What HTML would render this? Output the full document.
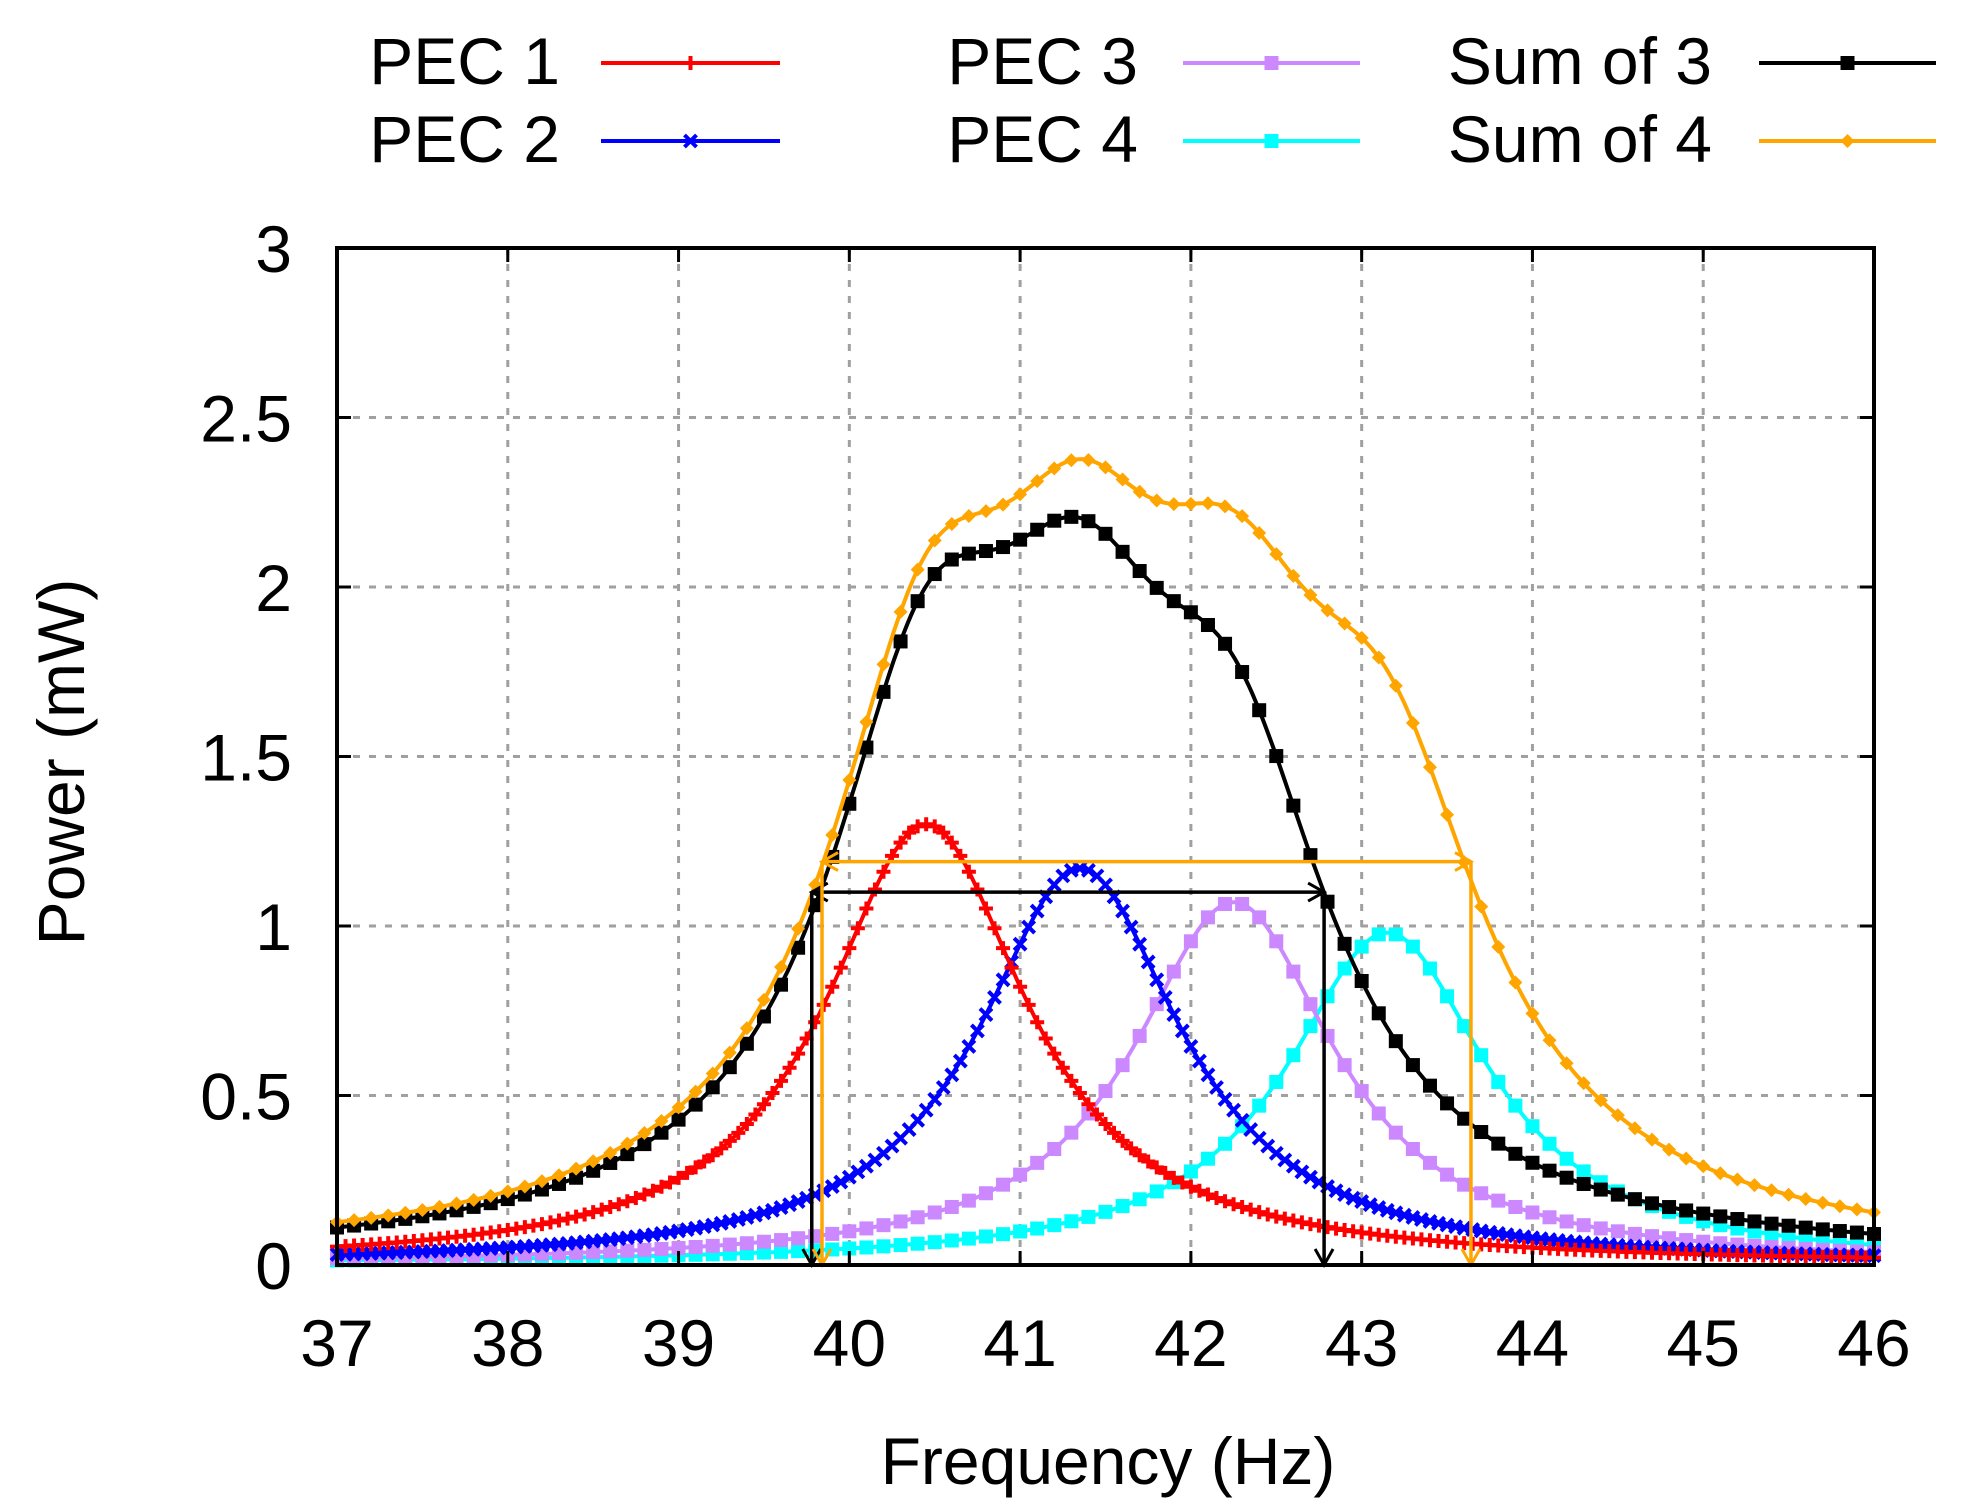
<!DOCTYPE html>
<html><head><meta charset="utf-8"><style>
html,body{margin:0;padding:0;background:#fff;}
svg{display:block;}
text{font-family:"Liberation Sans",sans-serif;fill:#000;}
</style></head><body>
<svg id="s" width="1964" height="1510" viewBox="0 0 1964 1510" xmlns="http://www.w3.org/2000/svg">
<g id="grid" stroke="#a0a0a0" stroke-width="3" stroke-dasharray="7,9"></g>
<g id="series"></g>
<g id="arrows"></g>
<rect x="337" y="248" width="1537" height="1017" fill="none" stroke="#000" stroke-width="4"/>
<g id="ticks" stroke="#000" stroke-width="3"></g>
<g font-size="66" text-anchor="end" id="ylab"></g>
<g font-size="66" text-anchor="middle" id="xlab"></g>
<text x="1108" y="1484" font-size="66" text-anchor="middle">Frequency (Hz)</text>
<text transform="translate(84,762) rotate(-90)" font-size="66" text-anchor="middle">Power (mW)</text>
<g font-size="66" text-anchor="end">
<text x="560" y="84">PEC 1</text>
<text x="560" y="162">PEC 2</text>
<text x="1138" y="84">PEC 3</text>
<text x="1138" y="162">PEC 4</text>
<text x="1712" y="84">Sum of 3</text>
<text x="1712" y="162">Sum of 4</text>
</g>
<g id="legend"></g>
</svg>
<script>
var NS="http://www.w3.org/2000/svg";
function el(p,t,a){var e=document.createElementNS(NS,t);for(var k in a)e.setAttribute(k,a[k]);p.appendChild(e);return e;}
var L=337,R=1874,T=248,B=1265;
function X(f){return L+(f-37)*(R-L)/9;}
function Y(v){return B-v*(B-T)/3;}
var g=document.getElementById('grid'),tk=document.getElementById('ticks');
var yl=document.getElementById('ylab'),xl=document.getElementById('xlab');
for(var i=0;i<=9;i++){var x=X(37+i);if(i>0&&i<9)el(g,'line',{x1:x,y1:T,x2:x,y2:B});
 el(tk,'line',{x1:x,y1:B,x2:x,y2:B-14});el(tk,'line',{x1:x,y1:T,x2:x,y2:T+14});
 var t=el(xl,'text',{x:x,y:1366});t.textContent=37+i;}
var yt=['0','0.5','1','1.5','2','2.5','3'];
for(var j=0;j<=6;j++){var y=Y(j*0.5);if(j>0&&j<6)el(g,'line',{x1:L,y1:y,x2:R,y2:y});
 el(tk,'line',{x1:L,y1:y,x2:L+14,y2:y});el(tk,'line',{x1:R,y1:y,x2:R-14,y2:y});
 var t=el(yl,'text',{x:292,y:y+24});t.textContent=yt[j];}
var pk=[[40.45,1.3],[41.35,1.17],[42.25,1.07],[43.15,0.98]],gm=0.72;
function P(k,f){var d=(f-pk[k][0])/gm;return pk[k][1]/(1+d*d);}
var fns=[function(f){return P(0,f)},function(f){return P(1,f)},function(f){return P(2,f)},function(f){return P(3,f)},
 function(f){return 1.052*(P(0,f)+P(1,f)+P(2,f))},function(f){return 1.066*(P(0,f)+P(1,f)+P(2,f)+P(3,f))}];
var cols=['#ff0000','#0000ff','#cc88ff','#00ffff','#000000','#ffa500'];
var marks=['plus','x','sq','sq','sq','dia'];
var steps=[0.05,0.05,0.1,0.1,0.1,0.1];
var sg=document.getElementById('series');
function mark(p,t,x,y,c){
 if(t=='plus'){el(p,'path',{d:'M'+(x-7)+' '+y+'h14M'+x+' '+(y-7)+'v14',stroke:c,'stroke-width':4});}
 else if(t=='x'){el(p,'path',{d:'M'+(x-6)+' '+(y-6)+'l12 12M'+(x-6)+' '+(y+6)+'l12 -12',stroke:c,'stroke-width':4});}
 else if(t=='sq'){el(p,'rect',{x:x-7,y:y-7,width:14,height:14,fill:c});}
 else {el(p,'path',{d:'M'+x+' '+(y-7)+'l7 7l-7 7l-7 -7z',fill:c});}
}
var order=[3,2,1,0,4,5];
order.forEach(function(k){var d='';for(var f=37;f<=46.0001;f+=0.02){d+=(d?'L':'M')+X(f).toFixed(1)+' '+Y(fns[k](f)).toFixed(1);}
 el(sg,'path',{d:d,fill:'none',stroke:cols[k],'stroke-width':4});
 for(var f=37;f<=46.0001;f+=steps[k])mark(sg,marks[k],X(f),Y(fns[k](f)),cols[k]);});
var lg=document.getElementById('legend');
var lx=[[601,780],[1183,1360],[1759,1936]];
for(var k=0;k<6;k++){var c=Math.floor(k/2),r=k%2,y=r?141:63;
 el(lg,'line',{x1:lx[c][0],y1:y,x2:lx[c][1],y2:y,stroke:cols[k],'stroke-width':4});
 mark(lg,marks[k],(lx[c][0]+lx[c][1])/2,y,cols[k]);}
var ag=document.getElementById('arrows');
function head(x,y,dx,dy,c){var px=-dy,py=dx;
 el(ag,'path',{d:'M'+(x-dx*16+px*9)+' '+(y-dy*16+py*9)+'L'+x+' '+y+'L'+(x-dx*16-px*9)+' '+(y-dy*16-py*9),fill:'none',stroke:c,'stroke-width':3});}
function arr(f1,f2,v,c){var x1=X(f1),x2=X(f2),y=Y(v);
 el(ag,'line',{x1:x1,y1:y,x2:x2,y2:y,stroke:c,'stroke-width':3.5});head(x1,y,-1,0,c);head(x2,y,1,0,c);
 [x1,x2].forEach(function(x){el(ag,'line',{x1:x,y1:y,x2:x,y2:B,stroke:c,'stroke-width':3.5});head(x,B,0,1,c);});}
arr(39.78,42.78,1.1,'#000');
arr(39.84,43.64,1.19,'#ffa500');
</script>
</body></html>
